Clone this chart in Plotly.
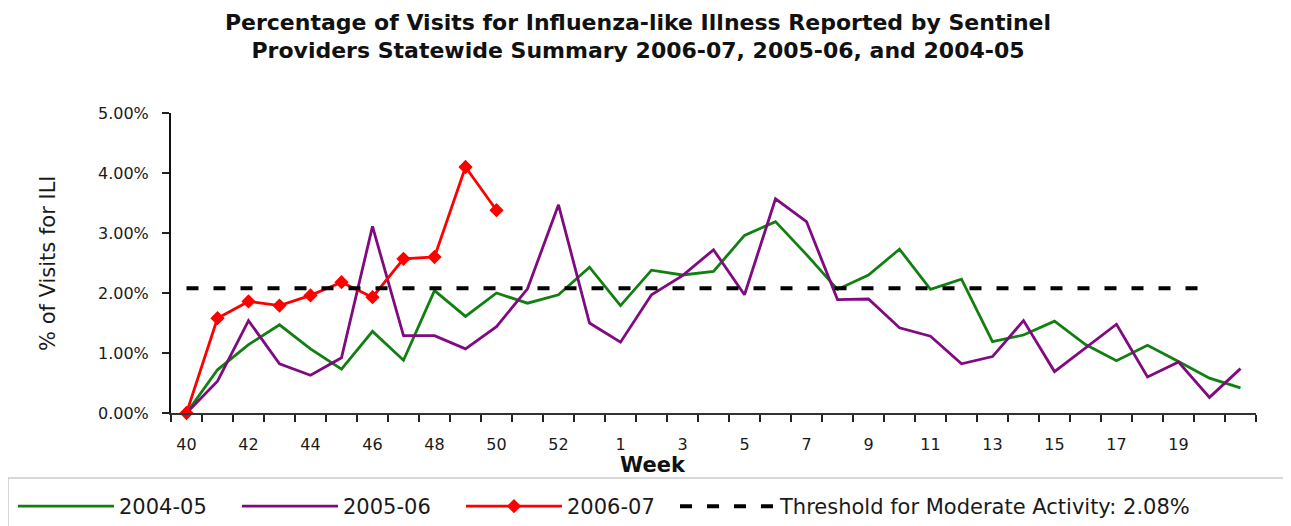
import plotly.graph_objects as go

weeks = [str(w) for w in range(40, 54)] + [str(w) for w in range(1, 22)]

ili_2004_05 = [0.00, 0.72, 1.14, 1.47, 1.07, 0.73, 1.36, 0.88, 2.04, 1.61,
               2.00, 1.83, 1.97, 2.43, 1.79, 2.38, 2.30, 2.36, 2.96, 3.19,
               2.64, 2.06, 2.30, 2.73, 2.06, 2.23, 1.19, 1.30, 1.53, 1.14,
               0.87, 1.13, 0.86, 0.58, 0.42]
ili_2005_06 = [0.00, 0.53, 1.54, 0.82, 0.63, 0.92, 3.11, 1.29, 1.29, 1.07,
               1.44, 2.07, 3.47, 1.50, 1.18, 1.97, 2.29, 2.72, 1.97, 3.57,
               3.19, 1.89, 1.90, 1.42, 1.28, 0.82, 0.94, 1.54, 0.69, 1.08,
               1.48, 0.60, 0.85, 0.26, 0.74]
ili_2006_07 = [0.00, 1.58, 1.86, 1.79, 1.96, 2.18, 1.93, 2.57, 2.60, 4.10, 3.38]
threshold_value = 2.08
threshold_weeks = 34

tick_every = 2
last_labelled = 32

xpos = list(range(len(weeks)))

fig = go.Figure()
fig.add_trace(go.Scatter(x=xpos[:len(ili_2004_05)], y=ili_2004_05, mode="lines",
                         name="2004-05", line=dict(color="#118011", width=2.8)))
fig.add_trace(go.Scatter(x=xpos[:len(ili_2005_06)], y=ili_2005_06, mode="lines",
                         name="2005-06", line=dict(color="#800a80", width=2.8)))
fig.add_trace(go.Scatter(x=xpos[:len(ili_2006_07)], y=ili_2006_07, mode="lines+markers",
                         name="2006-07", line=dict(color="#ff0000", width=2.8),
                         marker=dict(symbol="diamond", size=11, color="#ff0000"),
                         cliponaxis=False))
fig.add_trace(go.Scatter(x=xpos[:threshold_weeks], y=[threshold_value] * threshold_weeks,
                         mode="lines", name="Threshold for Moderate Activity: 2.08%",
                         legend="legend2",
                         line=dict(color="black", width=4, dash="12px,15px")))

font = "DejaVu Sans, Liberation Sans, Arial, sans-serif"
W, H = 1283, 518          # page body has an 8px margin
PL, PT, PW, PH = 171, 113, 1085, 300   # plot area in screen pixels


def px_x(x):
    return (x - PL) / PW


def px_y(y):
    return (PT + PH - y) / PH


legend_y = px_y(486)

fig.update_layout(
    width=W, height=H,
    margin=dict(l=163, r=W - (163 + PW), t=105, b=H - (105 + PH), autoexpand=False),
    paper_bgcolor="white", plot_bgcolor="white",
    font=dict(family=font, color="#1a1a1a"),
    title=dict(text="<b>Percentage of Visits for Influenza-like Illness Reported by Sentinel<br>"
                    "Providers Statewide Summary 2006-07, 2005-06, and 2004-05</b>",
               x=(638 - 8) / W, xanchor="center", y=1 - 21.5 / H, yanchor="middle",
               font=dict(size=22, family=font, color="#111111")),
    showlegend=True,
    legend=dict(orientation="h", x=px_x(13), xanchor="left", y=legend_y, yanchor="top",
                font=dict(size=21, family=font, color="#1a1a1a"),
                itemwidth=96, entrywidth=113, entrywidthmode="pixels",
                bgcolor="rgba(0,0,0,0)", borderwidth=0, traceorder="normal"),
    legend2=dict(orientation="h", x=px_x(675), xanchor="left", y=legend_y, yanchor="top",
                 font=dict(size=21, family=font, color="#1a1a1a"),
                 itemwidth=95,
                 bgcolor="rgba(0,0,0,0)", borderwidth=0),
)

fig.update_xaxes(
    range=[-0.5, len(weeks) - 0.5],
    tickmode="array", tickvals=xpos[:last_labelled + 1:tick_every],
    ticktext=weeks[:last_labelled + 1:tick_every],
    ticks="", ticklabelstandoff=16,
    tickfont=dict(size=16, family=font, color="#1a1a1a"),
    showline=True, linecolor="#333333", linewidth=2,
    showgrid=False, zeroline=False,
    minor=dict(tickmode="linear", tick0=-0.5, dtick=1, ticks="outside",
               ticklen=7, tickwidth=2, tickcolor="#222222", showgrid=False),
)
fig.update_yaxes(
    range=[0, 5], dtick=1, tickformat=".2f", ticksuffix="%",
    ticks="outside", ticklen=7, tickwidth=2, tickcolor="#222222",
    ticklabelstandoff=10,
    tickfont=dict(size=16, family=font, color="#1a1a1a"),
    showline=True, linecolor="#111111", linewidth=2,
    showgrid=False, zeroline=False,
)

fig.add_annotation(text="<b>Week</b>", xref="paper", yref="paper",
                   x=px_x(653), y=px_y(465),
                   xanchor="center", yanchor="middle", showarrow=False,
                   font=dict(size=21, family=font, color="#111111"))
fig.add_annotation(text="% of Visits for ILI", xref="paper", yref="paper",
                   x=px_x(48), y=px_y(263), textangle=-90,
                   xanchor="center", yanchor="middle", showarrow=False,
                   font=dict(size=21, family=font, color="#1a1a1a"))
fig.add_shape(type="rect", xref="paper", yref="paper",
              x0=px_x(8), x1=px_x(1286), y0=px_y(478), y1=px_y(545),
              line=dict(color="#cccccc", width=1.5), fillcolor="rgba(0,0,0,0)")

fig.write_html("out.html")
